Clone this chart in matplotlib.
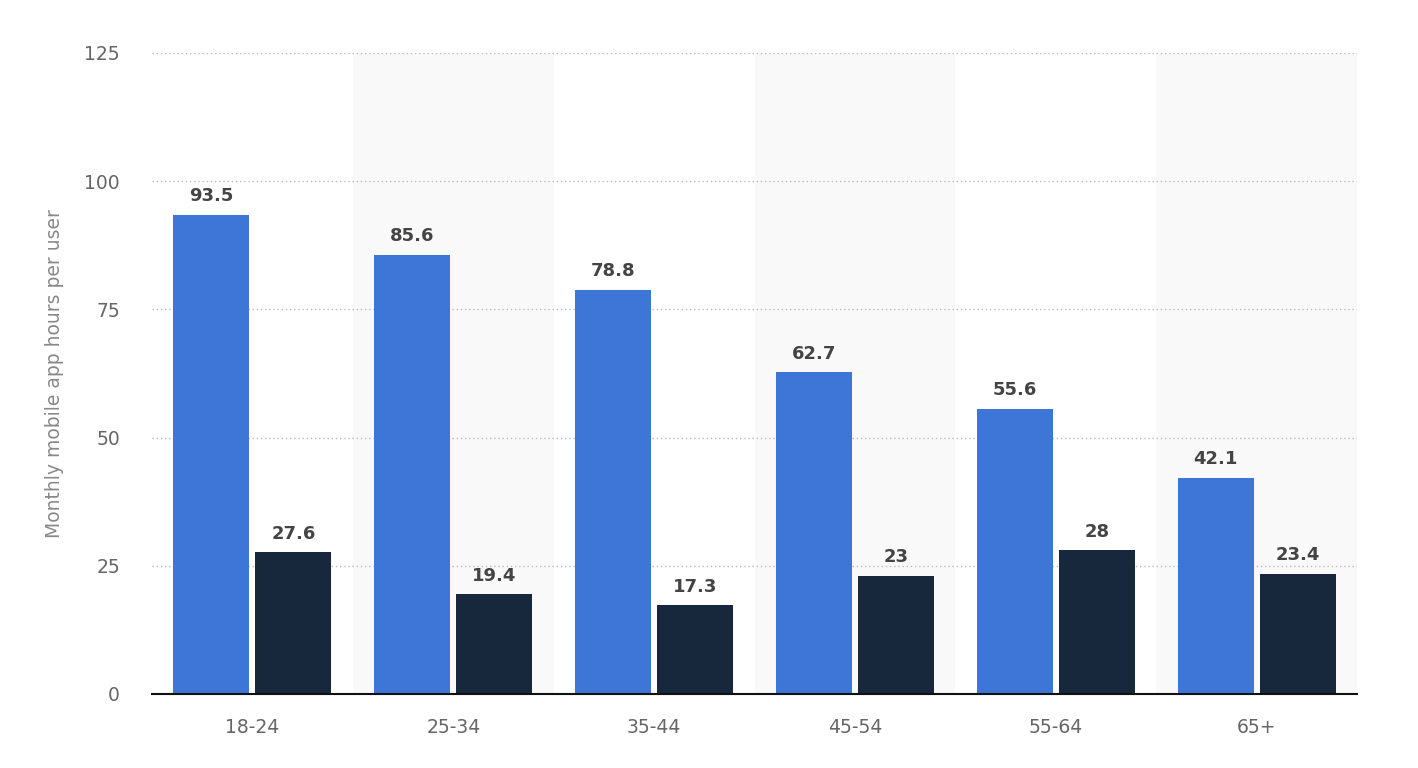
import numpy as np
import matplotlib.pyplot as plt

# data
age_groups = ['18-24', '25-34', '35-44', '45-54', '55-64', '65+']
series_a = [93.5, 85.6, 78.8, 62.7, 55.6, 42.1]
series_b = [27.6, 19.4, 17.3, 23, 28, 23.4]
y_ticks = [0, 25, 50, 75, 100, 125]

blue = '#3d76d6'
navy = '#18283c'

fig = plt.figure(figsize=(14.18, 7.68), dpi=100)
ax = fig.add_axes([0.1072, 0.0964, 0.8498, 0.8346])

x = np.arange(len(age_groups))
width = 0.378
offset = 0.204

# alternating background bands
for i in x:
    if i % 2 == 1:
        ax.axvspan(i - 0.5, i + 0.5, color='#f9f9f9', zorder=0, lw=0)

bars_a = ax.bar(x - offset, series_a, width, color=blue, zorder=3)
bars_b = ax.bar(x + offset, series_b, width, color=navy, zorder=3)

for bars, vals in [(bars_a, series_a), (bars_b, series_b)]:
    for b, v in zip(bars, vals):
        ax.annotate(f'{v:g}', (b.get_x() + b.get_width() / 2, v),
                    xytext=(0, 7), textcoords='offset points',
                    ha='center', va='bottom', fontsize=13,
                    fontweight='bold', color='#444444', zorder=4)

ax.set_xlim(-0.5, len(age_groups) - 0.5)
ax.set_ylim(0, 125)
ax.set_yticks(y_ticks)
ax.set_xticks(x)
ax.set_xticklabels(age_groups)
ax.yaxis.grid(True, linestyle=(0, (1, 2)), color='#bbbbbb', linewidth=1, zorder=1)
ax.set_axisbelow(True)

for s in ['top', 'right', 'left']:
    ax.spines[s].set_visible(False)
ax.spines['bottom'].set_color('#111111')
ax.spines['bottom'].set_linewidth(1.5)
ax.spines['bottom'].set_zorder(5)

ax.tick_params(axis='y', length=0, pad=23, labelsize=13.5, labelcolor='#666666')
ax.tick_params(axis='x', length=0, pad=17, labelsize=13.5, labelcolor='#666666')

ax.set_ylabel('Monthly mobile app hours per user', fontsize=13.5, color='#888888',
              labelpad=15)

fig.savefig('out.png', dpi=100)
